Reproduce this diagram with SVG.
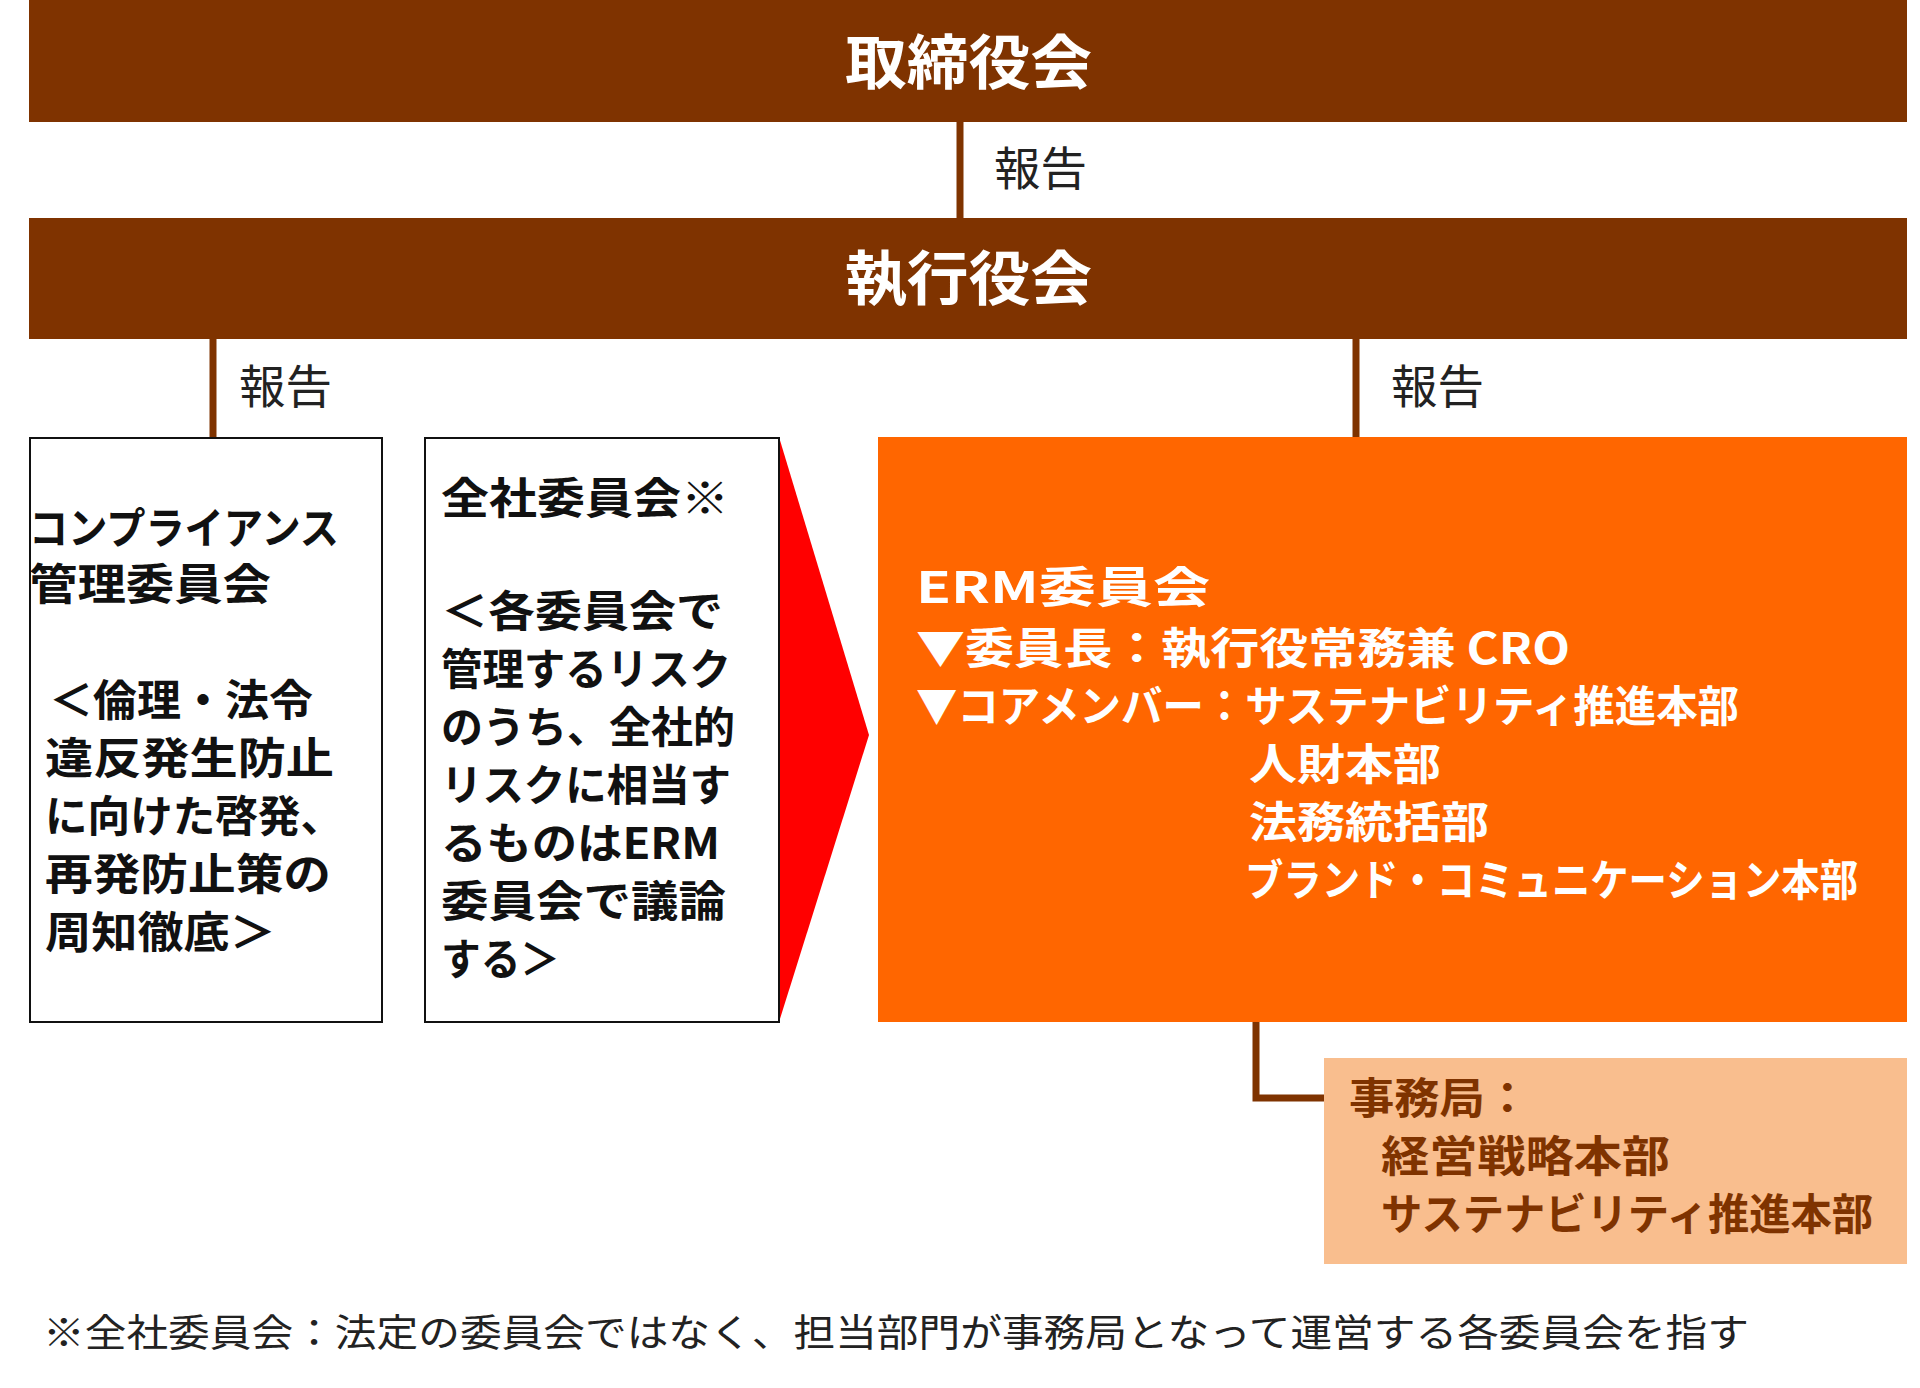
<svg xmlns="http://www.w3.org/2000/svg" width="1920" height="1388" viewBox="0 0 1920 1388">
<style>
text{font-family:"Noto Sans CJK JP","Noto Sans",sans-serif}
.t{font-size:59px;font-weight:bold;fill:#fff}
.r{font-size:46px;fill:#222}
.b{font-size:43px;font-weight:bold;fill:#111}
.w{font-size:43px;font-weight:bold;fill:#fff}
.s{font-size:43px;font-weight:bold;fill:#7F3300}
.f{font-size:38px;fill:#222}
.ln{stroke:#7F3300;stroke-width:7;fill:none}
</style>
<rect width="1920" height="1388" fill="#fff"/>
<g id="connectors">
<line class="ln" x1="960" y1="122" x2="960" y2="218"/>
<line class="ln" x1="213" y1="339" x2="213" y2="437"/>
<line class="ln" x1="1356" y1="339" x2="1356" y2="437"/>
<polyline class="ln" points="1256,1022 1256,1098 1324,1098"/>
<text class="r" x="994" y="185" textLength="93" lengthAdjust="spacingAndGlyphs">報告</text>
<text class="r" x="239" y="403" textLength="93" lengthAdjust="spacingAndGlyphs">報告</text>
<text class="r" x="1391" y="403" textLength="93" lengthAdjust="spacingAndGlyphs">報告</text>
<polygon points="779,437 869,735 779,1022" fill="#FF0000"/>
</g>
<g id="board">
<rect x="29" y="0" width="1878" height="122" fill="#7F3300"/>
<text class="t" x="845" y="84" textLength="247" lengthAdjust="spacingAndGlyphs">取締役会</text>
</g>
<g id="exec">
<rect x="29" y="218" width="1878" height="121" fill="#7F3300"/>
<text class="t" x="845" y="300" textLength="247" lengthAdjust="spacingAndGlyphs">執行役会</text>
</g>
<g id="compliance">
<rect x="30" y="438" width="352" height="584" fill="#fff" stroke="#111" stroke-width="2"/>
<g class="b">
<text x="29" y="544" textLength="310" lengthAdjust="spacingAndGlyphs">コンプライアンス</text>
<text x="29" y="600" textLength="242" lengthAdjust="spacingAndGlyphs">管理委員会</text>
<text x="49" y="716" textLength="264" lengthAdjust="spacingAndGlyphs">＜倫理・法令</text>
<text x="45" y="774" textLength="289" lengthAdjust="spacingAndGlyphs">違反発生防止</text>
<text x="45" y="832" textLength="298" lengthAdjust="spacingAndGlyphs">に向けた啓発、</text>
<text x="45" y="890" textLength="286" lengthAdjust="spacingAndGlyphs">再発防止策の</text>
<text x="45" y="948" textLength="231" lengthAdjust="spacingAndGlyphs">周知徹底＞</text>
</g>
</g>
<g id="company">
<rect x="425" y="438" width="354" height="584" fill="#fff" stroke="#111" stroke-width="2"/>
<g class="b">
<text x="441" y="514" textLength="288" lengthAdjust="spacingAndGlyphs">全社委員会※</text>
<text x="441" y="627" textLength="282" lengthAdjust="spacingAndGlyphs">＜各委員会で</text>
<text x="441" y="685" textLength="290" lengthAdjust="spacingAndGlyphs">管理するリスク</text>
<text x="441" y="743" textLength="294" lengthAdjust="spacingAndGlyphs">のうち、全社的</text>
<text x="441" y="801" textLength="290" lengthAdjust="spacingAndGlyphs">リスクに相当す</text>
<text x="441" y="859" textLength="279" lengthAdjust="spacingAndGlyphs">るものはERM</text>
<text x="441" y="917" textLength="285" lengthAdjust="spacingAndGlyphs">委員会で議論</text>
<text x="441" y="975" textLength="119" lengthAdjust="spacingAndGlyphs">する＞</text>
</g>
</g>
<g id="erm">
<rect x="878" y="437" width="1029" height="585" fill="#FF6600"/>
<text class="w" x="916" y="603" font-size="53" textLength="294" lengthAdjust="spacingAndGlyphs">ERM委員会</text>
<g class="w">
<text x="916" y="664" textLength="654" lengthAdjust="spacingAndGlyphs">▼委員長：執行役常務兼 CRO</text>
<text x="916" y="722" textLength="823" lengthAdjust="spacingAndGlyphs">▼コアメンバー：サステナビリティ推進本部</text>
<text x="1249" y="780" textLength="192" lengthAdjust="spacingAndGlyphs">人財本部</text>
<text x="1249" y="838" textLength="240" lengthAdjust="spacingAndGlyphs">法務統括部</text>
<text x="1245" y="896" textLength="613" lengthAdjust="spacingAndGlyphs">ブランド・コミュニケーション本部</text>
</g>
</g>
<g id="secretariat">
<rect x="1324" y="1058" width="583" height="206" fill="#F9BE8E"/>
<g class="s">
<text x="1349" y="1114" textLength="181" lengthAdjust="spacingAndGlyphs">事務局：</text>
<text x="1381" y="1172" textLength="289" lengthAdjust="spacingAndGlyphs">経営戦略本部</text>
<text x="1381" y="1230" textLength="492" lengthAdjust="spacingAndGlyphs">サステナビリティ推進本部</text>
</g>
</g>
<text class="f" x="43" y="1346" textLength="1706" lengthAdjust="spacingAndGlyphs">※全社委員会：法定の委員会ではなく、担当部門が事務局となって運営する各委員会を指す</text>
</svg>
